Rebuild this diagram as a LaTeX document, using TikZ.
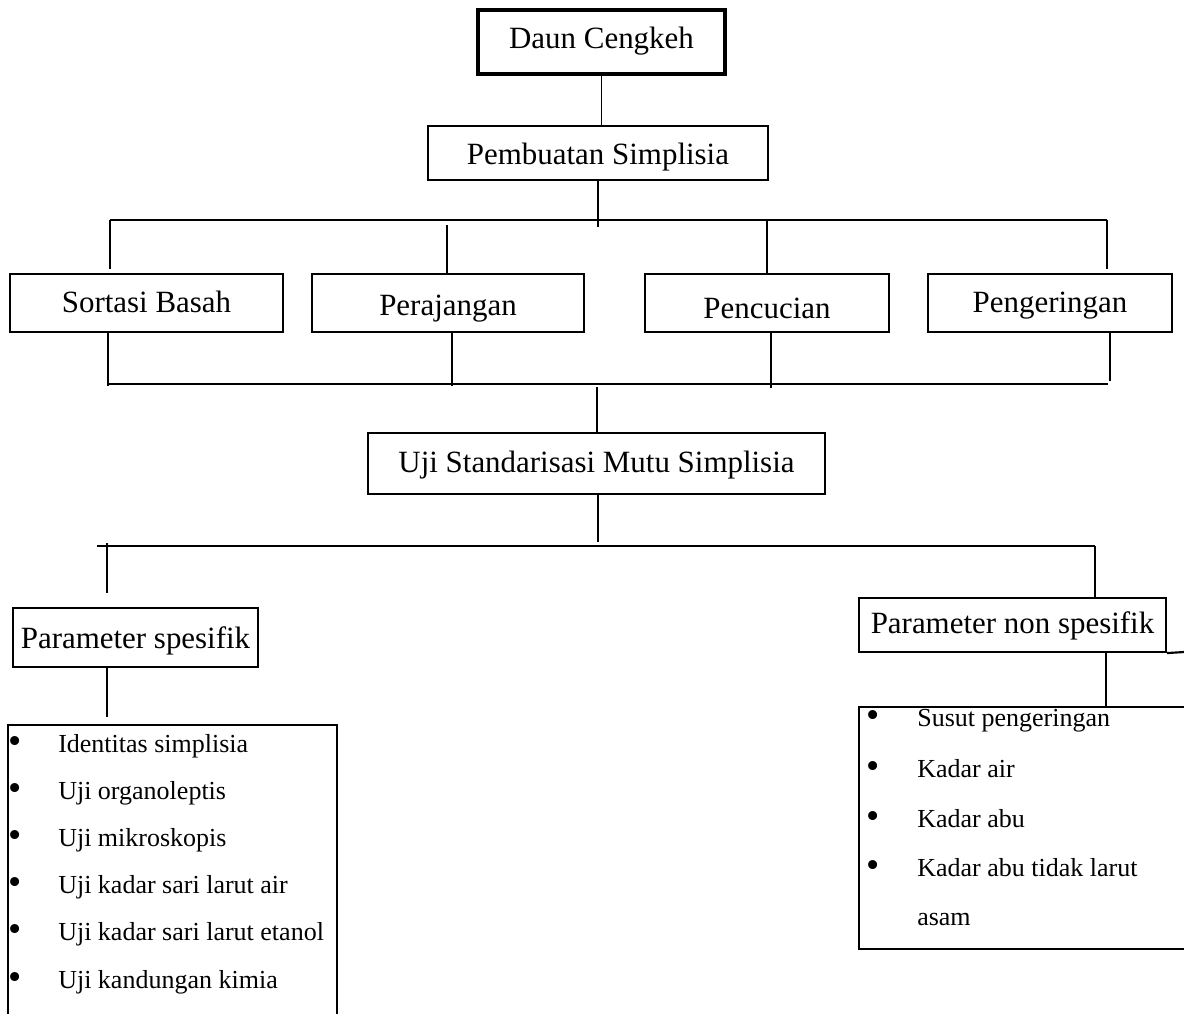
\documentclass[tikz,border=0pt]{standalone}
\usepackage{fontspec}
\setmainfont{Liberation Serif}
\def\px{0.75pt}
\newcommand\mybullet[1]{\makebox[#1][l]{\raisebox{-0.04em}{\scalebox{1.45}{\textbullet}}}}
\begin{document}
\begin{tikzpicture}[x=0.75pt,y=-0.75pt,
  conn/.style={line width=0.95pt},
  stage/.style={draw, line width=2pt, inner sep=0pt, text depth=0pt, font=\fontsize{23.2}{28}\selectfont},
  listbox/.style={draw, line width=2pt, inner sep=0pt},
  item/.style={anchor=base west, inner sep=0pt, font=\fontsize{19.5}{24}\selectfont}]
\useasboundingbox (0,0) rectangle (1184,1013);

% stage boxes
\node[stage, line width=2.3pt, text height=10.5pt, minimum width=247*\px, minimum height=64*\px] (daun) at (601.5,42) {Daun Cengkeh\hspace{12pt}};
\node[stage, line width=1.1pt, text height=18pt, minimum width=340*\px, minimum height=54*\px] (pemb) at (598,153) {Pembuatan Simplisia};
\node[stage, text height=13.5pt, minimum width=273*\px, minimum height=58*\px] (sort) at (146.5,303) {Sortasi Basah};
\node[stage, text height=18pt, minimum width=272*\px, minimum height=58*\px] (pera) at (448,303) {Perajangan};
\node[stage, text height=22.5pt, minimum width=244*\px, minimum height=58*\px] (pencu) at (767,303) {Pencucian};
\node[stage, text height=13.5pt, minimum width=244*\px, minimum height=58*\px] (penge) at (1050,303) {Pengeringan};
\node[stage, text height=12.75pt, minimum width=457*\px, minimum height=61*\px] (uji) at (596.5,463.5) {Uji Standarisasi Mutu Simplisia};
\node[stage, line width=1.6pt, text height=15.75pt, minimum width=245*\px, minimum height=59*\px] (pspes) at (135.5,637.5) {Parameter spesifik};
\node[stage, line width=1.6pt, text height=12pt, minimum width=307*\px, minimum height=54*\px] (pnon) at (1012.5,625) {Parameter non spesifik};

% list boxes
\node[listbox, minimum width=329*\px, minimum height=320*\px] (lspes) at (172.5,885) {};
\node[listbox, minimum width=360*\px, minimum height=242*\px] (lnon) at (1039,828) {};

\node[item] (s1) at (8.4,752) {\mybullet{37.2pt}Identitas simplisia};
\node[item] (s2) at (8.4,799) {\mybullet{37.2pt}Uji organoleptis};
\node[item] (s3) at (8.4,846) {\mybullet{37.2pt}Uji mikroskopis};
\node[item] (s4) at (8.4,893) {\mybullet{37.2pt}Uji kadar sari larut air};
\node[item] (s5) at (8.4,940) {\mybullet{37.2pt}Uji kadar sari larut etanol};
\node[item] (s6) at (8.4,988) {\mybullet{37.2pt}Uji kandungan kimia};

\node[item] (n1) at (866.4,726) {\mybullet{38pt}Susut pengeringan};
\node[item] (n2) at (866.4,777) {\mybullet{38pt}Kadar air};
\node[item] (n3) at (866.4,827) {\mybullet{38pt}Kadar abu};
\node[item] (n4) at (866.4,876) {\mybullet{38pt}Kadar abu tidak larut};
\node[item] (n5) at (917,925) {asam};

% bus coordinates
\coordinate (b1L) at (110,220);
\coordinate (b1R) at (1107,220);
\coordinate (b2L) at (108,384);
\coordinate (b2R) at (1108,384);
\coordinate (b3L) at (97,546);
\coordinate (b3R) at (1095,546);

% connectors
\draw[conn] (daun.south) -- (daun.south |- pemb.north);
\draw[conn] (pemb.south) -- ++(0,46);
\draw[conn] (b1L) -- (b1R);
\draw[conn] (b1L) -- ([yshift=3pt]b1L |- sort.north);
\draw[conn] (447,225) -- (447,0 |- pera.north);
\draw[conn] (767,221) -- (767,0 |- pencu.north);
\draw[conn] (b1R) -- ([yshift=3pt]b1R |- penge.north);

\draw[conn] (b2L |- sort.south) -- ([yshift=-1.5pt]b2L);
\draw[conn] (452,0 |- pera.south) -- (452,386);
\draw[conn] (771,0 |- pencu.south) -- (771,388);
\draw[conn] (1110,0 |- penge.south) -- (1110,381);
\draw[conn] (b2L) -- (b2R);
\draw[conn] (597,387) -- (597,0 |- uji.north);

\draw[conn] (598,0 |- uji.south) -- (598,542);
\draw[conn] (b3L) -- (b3R);
\draw[conn] (107,543) -- (107,593);
\draw[conn] (b3R) -- (b3R |- pnon.north);

\draw[conn] (107,0 |- pspes.south) -- (107,717);
\draw[conn] (1106,0 |- pnon.south) -- (1106,0 |- lnon.north);
\draw[line width=1.6pt] (pnon.south east) -- (1184,652);
\end{tikzpicture}
\end{document}
